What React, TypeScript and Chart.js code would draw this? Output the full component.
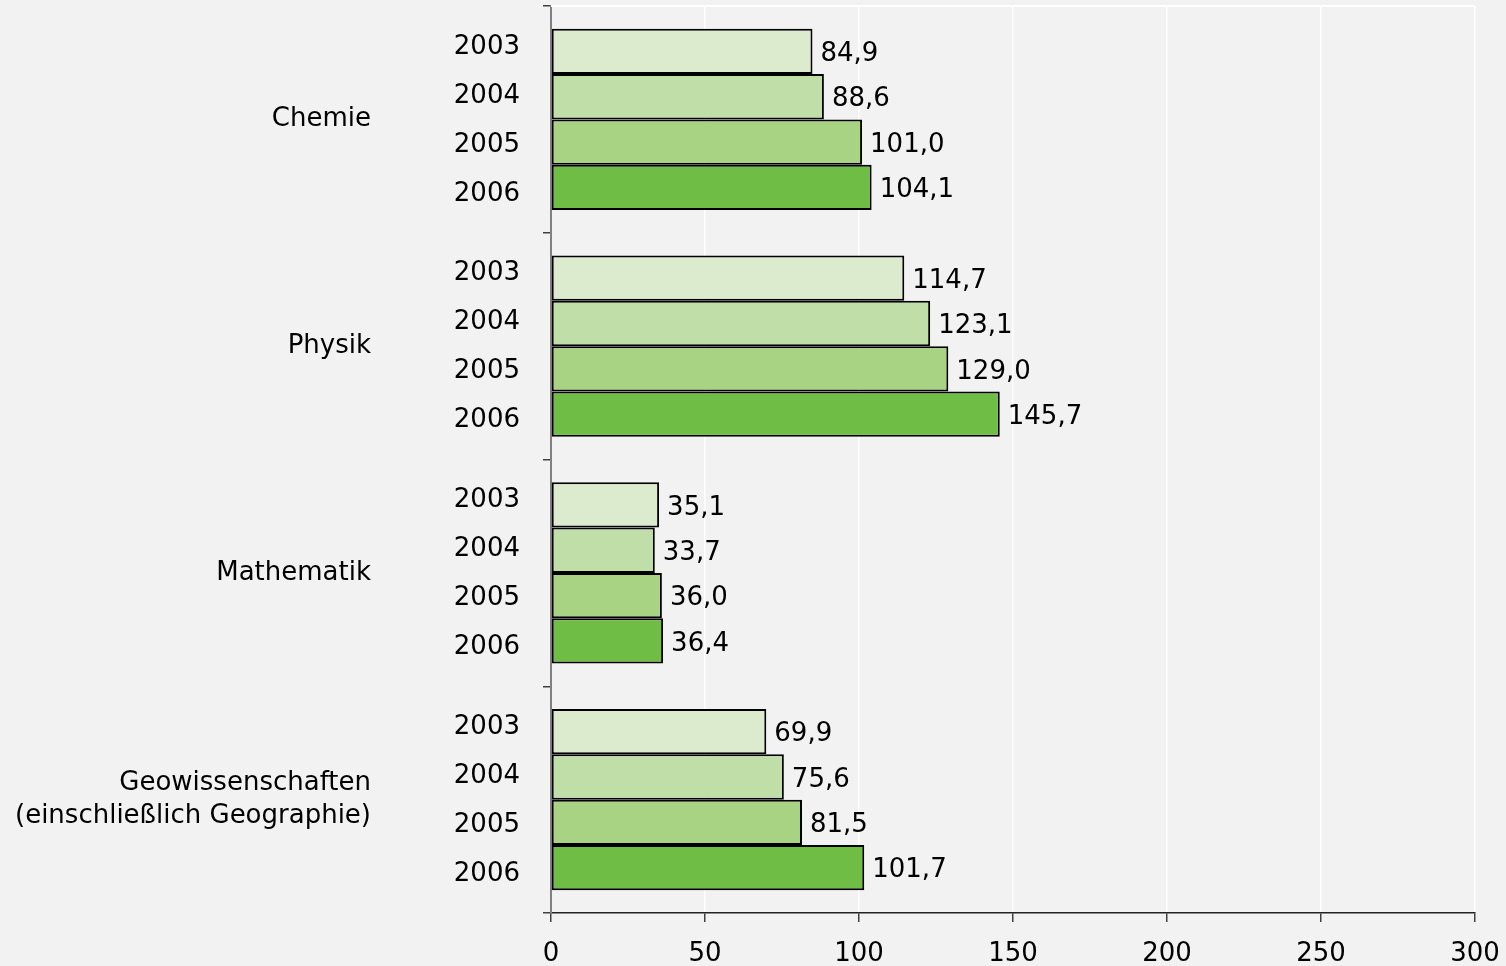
import React, { useEffect, useRef } from "react";
import { Chart, registerables } from "chart.js";

Chart.register(...registerables);

const categories: (string | string[])[] = [
  "Chemie",
  "Physik",
  "Mathematik",
  ["Geowissenschaften", "(einschließlich Geographie)"],
];
const years = ["2003", "2004", "2005", "2006"];
const values2003 = [84.9, 114.7, 35.1, 69.9];
const values2004 = [88.6, 123.1, 33.7, 75.6];
const values2005 = [101.0, 129.0, 36.0, 81.5];
const values2006 = [104.1, 145.7, 36.4, 101.7];
const seriesValues = [values2003, values2004, values2005, values2006];
const seriesColors = ["#dcebcd", "#c0dea8", "#a8d382", "#70bd45"];

const FONT_FAMILY = "'DejaVu Sans', Verdana, sans-serif";
const FONT_SIZE = 26;
const fontStr = `${FONT_SIZE}px ${FONT_FAMILY}`;

const fmt = (v: number) => v.toFixed(1).replace(".", ",");

// Value labels to the right of each bar
const valueLabels = {
  id: "valueLabels",
  afterDatasetsDraw(chart: any) {
    const ctx = chart.ctx;
    ctx.save();
    ctx.font = fontStr;
    ctx.fillStyle = "#000";
    ctx.textAlign = "left";
    ctx.textBaseline = "middle";
    chart.data.datasets.forEach((ds: any, di: number) => {
      const meta = chart.getDatasetMeta(di);
      meta.data.forEach((bar: any, i: number) => {
        ctx.fillText(fmt(ds.data[i]), bar.x + 8, bar.y + 3);
      });
    });
    ctx.restore();
  },
};

// Year labels next to the bars, left of the axis
const yearLabels = {
  id: "yearLabels",
  afterDatasetsDraw(chart: any) {
    const ctx = chart.ctx;
    const yScale = chart.scales.y;
    const x = chart.chartArea.left - 31;
    ctx.save();
    ctx.font = fontStr;
    ctx.fillStyle = "#000";
    ctx.textAlign = "right";
    ctx.textBaseline = "middle";
    chart.data.datasets.forEach((ds: any, di: number) => {
      const meta = chart.getDatasetMeta(di);
      meta.data.forEach((bar: any, i: number) => {
        const center = yScale.getPixelForValue(i);
        const y = center + (bar.y - center) * 1.08 + 1;
        ctx.fillText(ds.label, x, y);
      });
    });
    ctx.restore();
  },
};

// White frame line along the top of the plot area
const topFrame = {
  id: "topFrame",
  beforeDatasetsDraw(chart: any) {
    const { ctx, chartArea } = chart;
    ctx.save();
    ctx.strokeStyle = "#ffffff";
    ctx.lineWidth = 2;
    ctx.beginPath();
    ctx.moveTo(chartArea.left, chartArea.top);
    ctx.lineTo(chartArea.right, chartArea.top);
    ctx.stroke();
    ctx.restore();
  },
};

export default function App() {
  const canvasRef = useRef<HTMLCanvasElement | null>(null);

  useEffect(() => {
    if (!canvasRef.current) return;
    const chart = new Chart(canvasRef.current, {
      type: "bar",
      data: {
        labels: categories,
        datasets: years.map((y, i) => ({
          label: y,
          data: seriesValues[i],
          backgroundColor: seriesColors[i],
          borderColor: "#000000",
          borderWidth: 2,
          borderSkipped: false,
          categoryPercentage: 0.8,
          barPercentage: 1.0,
        })),
      },
      options: {
        indexAxis: "y",
        animation: false,
        responsive: false,
        devicePixelRatio: 1,
        layout: { padding: { top: 6, right: 31, left: 0, bottom: 0 } },
        plugins: {
          legend: { display: false },
          tooltip: { enabled: false },
        },
        scales: {
          x: {
            min: 0,
            max: 300,
            ticks: {
              stepSize: 50,
              color: "#000",
              font: { family: FONT_FAMILY, size: FONT_SIZE },
              padding: 17,
            },
            grid: {
              color: (c: any) => (c.tick && c.tick.value === 0 ? "rgba(0,0,0,0)" : "#ffffff"),
              lineWidth: 1.5,
              drawTicks: true,
              tickLength: 9,
              tickColor: "#404040",
            },
            border: { color: "#222222", width: 1.5 },
            afterFit(scale: any) {
              scale.height = 53;
              scale.paddingLeft = 0;
              scale.paddingRight = 0;
            },
          },
          y: {
            offset: true,
            ticks: {
              color: "#000",
              font: { family: FONT_FAMILY, size: FONT_SIZE, lineHeight: 1.27 },
              padding: 172,
            },
            grid: {
              offset: true,
              drawOnChartArea: false,
              drawTicks: true,
              tickLength: 8,
              tickColor: "#404040",
              lineWidth: 1.5,
            },
            border: { color: "#808080", width: 2 },
            afterFit(scale: any) {
              scale.width = 551;
              scale.paddingTop = 0;
              scale.paddingBottom = 0;
            },
          },
        },
      },
      plugins: [topFrame, valueLabels, yearLabels],
    } as any);
    return () => chart.destroy();
  }, []);

  return (
    <div style={{ position: "fixed", inset: 0, background: "#f2f2f2" }}>
      <canvas ref={canvasRef} width={1506} height={966} style={{ display: "block" }} />
    </div>
  );
}
